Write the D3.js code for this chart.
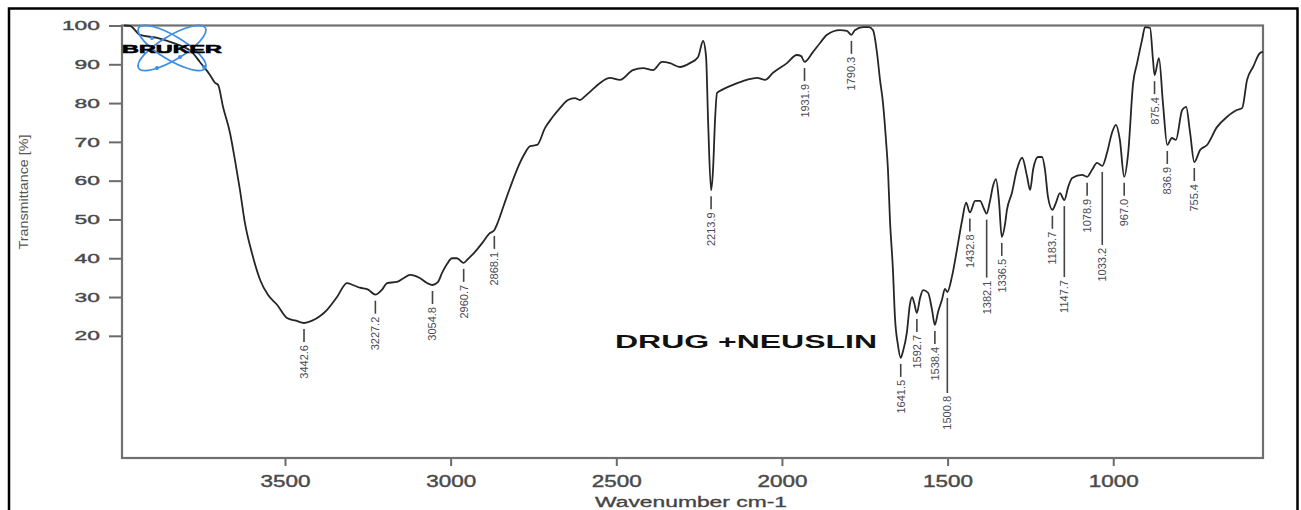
<!DOCTYPE html>
<html>
<head>
<meta charset="utf-8">
<script src="https://cdn.jsdelivr.net/npm/d3@7"></script>
<style>
  html, body { margin: 0; padding: 0; background: #fff; }
  svg { display: block; }
  text { font-family: "Liberation Sans", Arial, sans-serif; }
</style>
</head>
<body>
<svg id="chart" width="1301" height="510"></svg>
<script>
// FT-IR spectrum, DRUG + NEUSLIN: wavenumber (cm-1) and transmittance (%)
const wavenumbers = [
  3986, 3968, 3938, 3886, 3838, 3778, 3757, 3726, 3711, 3702, 3687, 3666, 3651, 3636, 3621, 3600,
  3575, 3551, 3524, 3494, 3467, 3442.6, 3418, 3394, 3373, 3343, 3313, 3295, 3274, 3249, 3227.2, 3207,
  3192, 3162, 3141, 3123, 3093, 3071, 3054.8, 3038, 3026, 3011, 2996, 2981, 2960.7, 2948, 2927, 2905,
  2884, 2868.1, 2857, 2839, 2821, 2800, 2779, 2760, 2739, 2715, 2694, 2670, 2646, 2625, 2610, 2594,
  2573, 2549, 2519, 2489, 2450, 2419, 2389, 2362, 2338, 2308, 2278, 2253, 2238, 2229, 2223, 2213.9,
  2208, 2202, 2196, 2181, 2148, 2106, 2075, 2051, 2027, 1985, 1955, 1942, 1931.9, 1906, 1885, 1864,
  1825, 1804, 1790.3, 1780, 1755, 1737, 1725, 1713, 1704, 1695, 1686, 1680, 1674, 1665, 1659, 1650,
  1641.5, 1635, 1623, 1614, 1607, 1601, 1592.7, 1583, 1574, 1559, 1547, 1538.4, 1529, 1517, 1508, 1500.8,
  1487, 1472, 1457, 1444, 1432.8, 1417, 1402, 1390, 1382.1, 1372, 1363, 1354, 1345, 1336.5, 1327, 1321,
  1306, 1291, 1275, 1260, 1251, 1242, 1227, 1215, 1206, 1197, 1183.7, 1173, 1161, 1147.7, 1136, 1124,
  1094, 1078.9, 1064, 1049, 1033.2, 1019, 1004, 992, 980, 967.0, 955, 940, 928, 913, 904, 889,
  880, 875.4, 862, 850, 836.9, 823, 811, 792, 780, 768, 755.4, 738, 717, 687, 657, 627,
  611, 596, 578, 557, 548
];
const transmittance = [
  100, 99.9, 97.6, 96.8, 95.5, 92.9, 90.6, 87.2, 85.2, 84.7, 79.0, 72.3, 65.3, 57.6, 49.1, 41.4,
  34.4, 30.5, 28.0, 24.6, 23.9, 23.3, 23.9, 25.1, 26.7, 30.0, 33.6, 33.1, 32.4, 31.9, 30.6, 31.9,
  33.6, 33.9, 34.9, 35.7, 34.9, 33.6, 33.1, 33.9, 36.2, 38.5, 40.0, 40.0, 38.8, 39.8, 41.6, 43.9,
  46.3, 47.3, 49.4, 53.8, 58.1, 62.8, 66.6, 68.9, 69.2, 73.6, 76.2, 78.7, 80.8, 81.3, 80.8, 81.8,
  83.4, 85.2, 86.5, 86.0, 88.5, 89.0, 88.5, 90.6, 90.3, 89.3, 90.3, 91.9, 96.0, 91.9, 75.6, 57.5,
  62.8, 75.6, 82.6, 83.4, 84.7, 86.0, 86.5, 86.0, 87.8, 90.3, 92.4, 92.1, 90.6, 93.2, 95.5, 97.6,
  98.8, 98.6, 97.6, 98.8, 99.6, 99.6, 98.8, 92.9, 86.0, 80.0, 70.5, 62.8, 49.9, 37.0, 24.9, 17.7,
  14.3, 15.9, 20.8, 28.0, 30.0, 28.5, 25.9, 29.8, 31.8, 31.1, 26.7, 22.8, 26.1, 29.3, 32.1, 31.3,
  35.2, 42.1, 49.4, 54.3, 51.8, 54.8, 54.8, 52.7, 51.5, 54.8, 58.6, 60.4, 54.8, 45.5, 48.6, 52.4,
  56.8, 62.8, 65.9, 61.0, 57.6, 62.8, 66.1, 66.1, 62.8, 55.8, 52.5, 54.3, 56.8, 55.0, 58.4, 60.7,
  61.5, 61.0, 62.8, 64.6, 63.8, 67.1, 72.3, 74.4, 70.5, 61.0, 67.1, 85.2, 90.3, 96.3, 99.6, 99.4,
  91.1, 87.2, 91.6, 80.0, 69.2, 71.0, 70.5, 78.2, 79.0, 72.3, 64.8, 67.9, 69.2, 73.8, 76.4, 78.2,
  78.7, 86.0, 89.3, 92.9, 93.2
];

// Picked peaks
const peakWavenumbers = [
  3442.6, 3227.2, 3054.8, 2960.7, 2868.1, 2213.9, 1931.9, 1790.3, 1641.5, 1592.7, 1538.4, 1500.8,
  1432.8, 1382.1, 1336.5, 1183.7, 1147.7, 1078.9, 1033.2, 967.0, 875.4, 836.9, 755.4
];
const peakLabels = [
  "3442.6", "3227.2", "3054.8", "2960.7", "2868.1", "2213.9", "1931.9", "1790.3", "1641.5", "1592.7",
  "1538.4", "1500.8", "1432.8", "1382.1", "1336.5", "1183.7", "1147.7", "1078.9", "1033.2", "967.0",
  "875.4", "836.9", "755.4"
];

const xTicks = [3500, 3000, 2500, 2000, 1500, 1000];
const yTicks = [20, 30, 40, 50, 60, 70, 80, 90, 100];

const sampleTitle = "DRUG +NEUSLIN";
const xTitle = "Wavenumber cm-1";
const yTitle = "Transmittance [%]";
const logoText = "BRUKER";

// ---- layout ----
const plot = { left: 122, right: 1263, top: 25.5, bottom: 458 };
const leaderLong = { "1500.8": 95, "1382.1": 58, "1147.7": 71, "1033.2": 73 };

const svg = d3.select("#chart");

// outer frame of the figure
svg.append("path")
  .attr("d", "M9,512 V8.5 H1297.5 V512")
  .attr("fill", "none").attr("stroke", "#000").attr("stroke-width", 2.5);

const x = d3.scaleLinear().domain([3992, 548]).range([plot.left, plot.right]);
const y = d3.scaleLinear().domain([-11.5, 100]).range([plot.bottom, plot.top]);

// axes
const yAxis = svg.append("g")
  .attr("transform", `translate(${plot.left},0)`)
  .call(d3.axisLeft(y).tickValues(yTicks).tickSize(13).tickPadding(9).tickFormat(d3.format("d")));
yAxis.select(".domain").remove();
yAxis.selectAll(".tick line").attr("stroke", "#6a6a6a").attr("stroke-width", 2);
yAxis.selectAll(".tick text")
  .attr("fill", "#4a4a4a").attr("stroke", "#4a4a4a").attr("stroke-width", 0.4)
  .style("font-size", "13px")
  .attr("textLength", d => String(d).length * 12.7)
  .attr("lengthAdjust", "spacingAndGlyphs");

const xAxis = svg.append("g")
  .attr("transform", `translate(0,${plot.bottom})`)
  .call(d3.axisBottom(x).tickValues(xTicks).tickSize(8).tickPadding(10).tickFormat(d3.format("d")));
xAxis.select(".domain").remove();
xAxis.selectAll(".tick line").attr("stroke", "#6a6a6a").attr("stroke-width", 2);
xAxis.selectAll(".tick text")
  .attr("fill", "#4a4a4a").attr("stroke", "#4a4a4a").attr("stroke-width", 0.4)
  .style("font-size", "16px")
  .attr("textLength", d => String(d).length * 12.5)
  .attr("lengthAdjust", "spacingAndGlyphs");

// plot frame
svg.append("rect")
  .attr("x", plot.left).attr("y", plot.top)
  .attr("width", plot.right - plot.left).attr("height", plot.bottom - plot.top)
  .attr("fill", "none").attr("stroke", "#707070").attr("stroke-width", 2.2);

// axis titles
svg.append("text")
  .attr("transform", "translate(28,192) rotate(-90)")
  .attr("text-anchor", "middle")
  .attr("fill", "#555").style("font-size", "12.5px")
  .attr("textLength", 115).attr("lengthAdjust", "spacingAndGlyphs")
  .text(yTitle);

svg.append("text")
  .attr("x", 595).attr("y", 507)
  .attr("fill", "#444").attr("stroke", "#444").attr("stroke-width", 0.3)
  .style("font-size", "14px")
  .attr("textLength", 192).attr("lengthAdjust", "spacingAndGlyphs")
  .text(xTitle);

// spectrum
const spectrum = wavenumbers.map((w, i) => ({ w, t: transmittance[i] }));
svg.append("path")
  .datum(spectrum)
  .attr("fill", "none").attr("stroke", "#262626").attr("stroke-width", 1.8)
  .attr("stroke-linejoin", "round")
  .attr("d", d3.line().x(d => x(d.w)).y(d => y(d.t)).curve(d3.curveMonotoneX));

// peak markers
const bis = d3.bisector(d => -d.w).left;
function valueAt(w) {
  const i = Math.min(Math.max(bis(spectrum, -w), 1), spectrum.length - 1);
  const a = spectrum[i - 1], b = spectrum[i];
  const f = (w - a.w) / (b.w - a.w);
  return a.t + f * (b.t - a.t);
}
const peaks = peakWavenumbers.map((w, i) => ({ w, label: peakLabels[i], t: valueAt(w) }));
const pk = svg.append("g");
peaks.forEach(p => {
  const px = x(p.w), py = y(p.t);
  const len = leaderLong[p.label] || 13;
  pk.append("line")
    .attr("x1", px).attr("x2", px)
    .attr("y1", py + 6).attr("y2", py + 6 + len)
    .attr("stroke", "#444").attr("stroke-width", 1.6);
  pk.append("text")
    .attr("transform", `translate(${px},${py + 9 + len}) rotate(-90)`)
    .attr("text-anchor", "end")
    .attr("dominant-baseline", "central")
    .attr("fill", "#4a4a55").style("font-size", "11px")
    .text(p.label);
});

// sample name
svg.append("text")
  .attr("x", 615).attr("y", 348)
  .attr("fill", "#111").style("font-size", "18px").style("font-weight", "bold")
  .attr("textLength", 262).attr("lengthAdjust", "spacingAndGlyphs")
  .text(sampleTitle);

// manufacturer logo (atom orbits + name)
const logo = svg.append("g").attr("transform", "translate(172,48)");
[-31, 31].forEach(a => {
  logo.append("ellipse")
    .attr("rx", 39).attr("ry", 12)
    .attr("transform", `rotate(${a})`)
    .attr("fill", "none").attr("stroke", "#3e8ee6").attr("stroke-width", 1.7);
});
[[-15, 20], [8, 9], [32, 19], [-20, -10]].forEach(([cx, cy]) => {
  logo.append("circle").attr("cx", cx).attr("cy", cy).attr("r", 2).attr("fill", "#3e8ee6");
});
svg.append("text")
  .attr("x", 122).attr("y", 53)
  .attr("fill", "#000").attr("stroke", "#000").attr("stroke-width", 0.6)
  .style("font-size", "11.5px").style("font-weight", "bold")
  .attr("textLength", 100).attr("lengthAdjust", "spacingAndGlyphs")
  .text(logoText);
</script>
</body>
</html>
